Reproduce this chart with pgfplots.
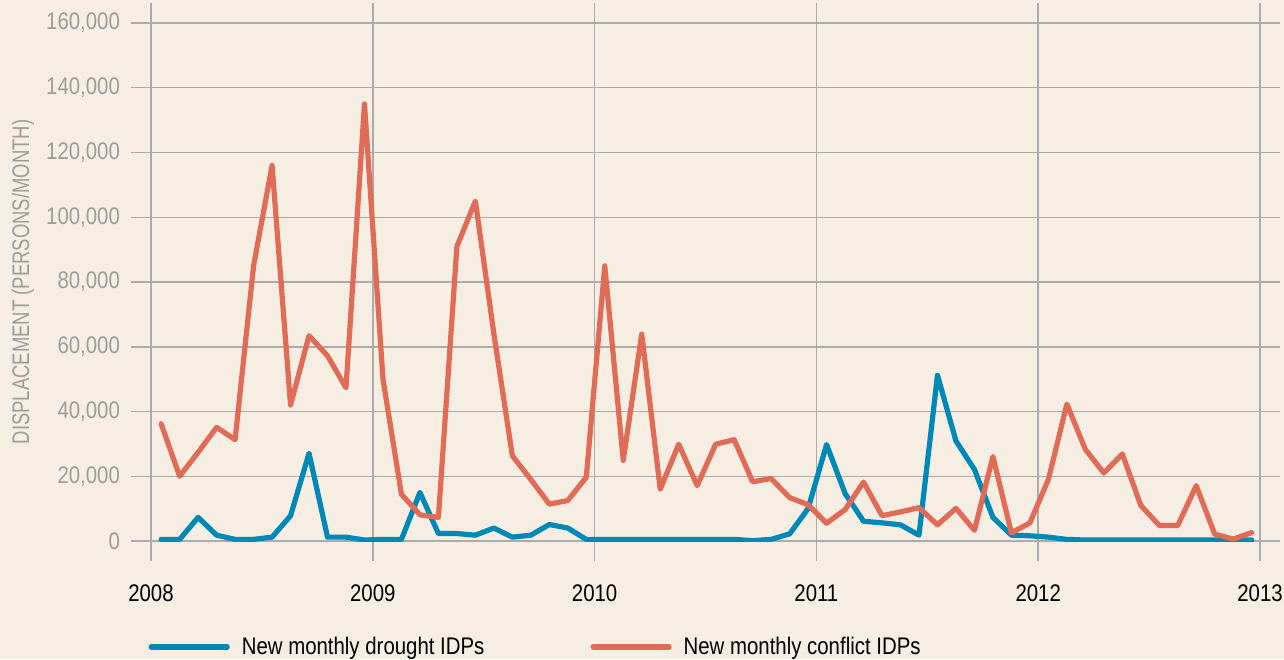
\documentclass[border=0pt]{standalone}
\usepackage{fontspec}
\setmainfont[FakeStretch=0.85]{Liberation Sans}
\newfontfamily\narrowfont[FakeStretch=0.77]{Liberation Sans}
\usepackage{pgfplots}
\usepackage{pgfplotstable}
\pgfplotsset{compat=1.18}
\definecolor{bg}{HTML}{F7EEE3}
\definecolor{gridc}{HTML}{ABABAB}
\definecolor{labc}{HTML}{9C9C9C}
\definecolor{dblue}{HTML}{0089B6}
\definecolor{cred}{HTML}{E06B56}

\pgfplotstableread{
m drought conflict
1 500 36200
2 500 20000
3 7300 27400
4 1800 35100
5 500 31300
6 500 85000
7 1200 116000
8 7800 42000
9 27100 63400
10 1200 57200
11 1200 47300
12 300 135000
13 500 50000
14 500 14400
15 15000 8100
16 2300 7300
17 2300 91000
18 1800 105000
19 4000 64000
20 1200 26300
21 1800 19000
22 5100 11400
23 4000 12500
24 500 19700
25 500 85000
26 500 24900
27 500 63900
28 500 16000
29 500 29900
30 500 17100
31 500 29900
32 500 31300
33 100 18300
34 500 19300
35 2200 13400
36 10000 11200
37 29800 5500
38 14700 9700
39 6100 18200
40 5600 7800
41 5000 9000
42 1800 10300
43 51200 5000
44 30900 10100
45 22100 3300
46 7300 26100
47 1800 2500
48 1600 5600
49 1200 19000
50 500 42300
51 300 28300
52 300 21000
53 300 26900
54 300 11000
55 300 4800
56 300 4800
57 300 17100
58 300 2100
59 300 600
60 300 2600
}\datatable

\begin{document}
\begin{tikzpicture}
\useasboundingbox (-75.5pt,-59pt) rectangle (566.5pt,270.5pt);
\fill[bg] (-75.5pt,-59pt) rectangle (566.5pt,270.5pt);
\begin{axis}[
  at={(0,0)}, anchor=south west,
  scale only axis, width=554.5pt, height=259pt,
  xmin=0, xmax=60, ymin=0, ymax=160000,
  xtick={0,12,24,36,48,60},
  xticklabels={2008,2009,2010,2011,2012,2013},
  ytick={0,20000,40000,60000,80000,100000,120000,140000,160000},
  yticklabels={0,{20,000},{40,000},{60,000},{80,000},{100,000},{120,000},{140,000},{160,000}},
  scaled y ticks=false,
  grid=major,
  grid style={draw=gridc, line width=0.75pt},
  axis line style={draw=gridc, line width=0.75pt},
  tick align=outside,
  major tick length=10pt,
  tick style={draw=gridc, line width=0.75pt},
  x tick label style={font=\fontsize{12}{14}\selectfont, text=black, yshift=-8.5pt},
  y tick label style={font=\fontsize{12}{14}\selectfont, text=labc, xshift=-2pt},
  ylabel={DISPLACEMENT (PERSONS/MONTH)},
  ylabel style={font=\narrowfont\fontsize{12}{14}\selectfont, text=labc, at={(axis description cs:-0.1155,0.5)}, anchor=center},
  legend columns=2,
  legend style={at={(axis description cs:-0.0025,-0.2046)}, anchor=west, draw=none, fill=none, inner sep=0pt,
    font=\fontsize{12}{14}\selectfont,
    nodes={inner sep=0pt},
    /tikz/every odd column/.append style={column sep=6pt},
    /tikz/every even column/.append style={column sep=53pt}},
  legend image code/.code={\draw[line cap=round] (0pt,0pt) -- (38pt,0pt);},
]
\pgfplotsinvokeforeach{0,12,24,36,48,60}{
  \draw[gridc, line width=0.75pt] (axis cs:#1,0) -- ++(0,-16pt);
}
\addplot[dblue, line width=2.6pt, line join=round, line cap=round] table[x expr=\thisrow{m}-0.45, y=drought] {\datatable};
\addlegendentry{New monthly drought IDPs}
\addplot[cred, line width=2.6pt, line join=round, line cap=round] table[x expr=\thisrow{m}-0.45, y=conflict] {\datatable};
\addlegendentry{New monthly conflict IDPs}
\end{axis}
\end{tikzpicture}
\end{document}
